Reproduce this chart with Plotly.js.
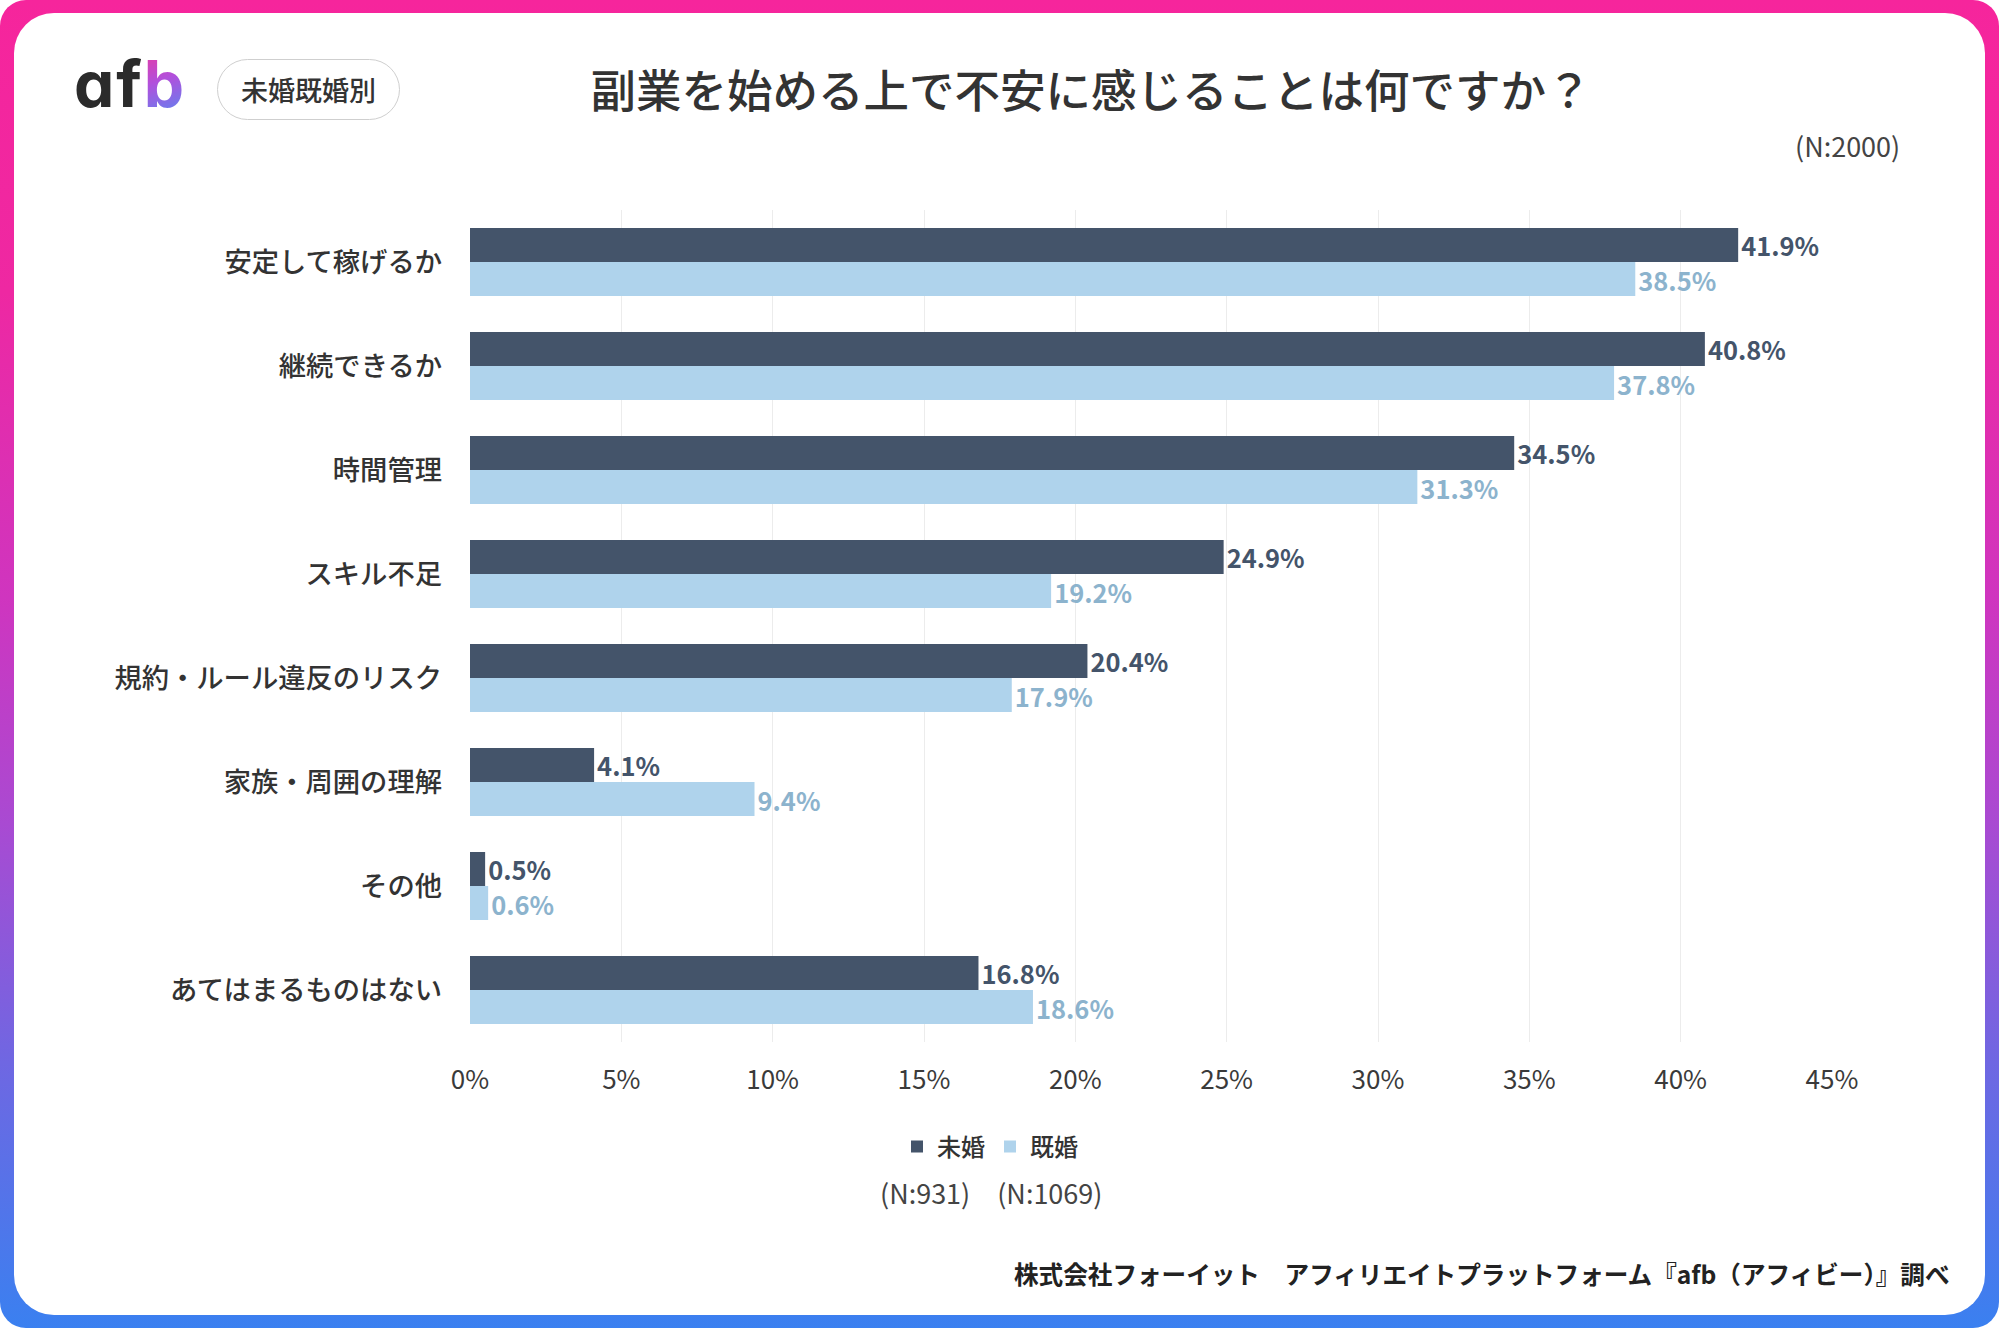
<!DOCTYPE html>
<html lang="ja">
<head>
<meta charset="utf-8">
<script src="https://cdn.plot.ly/plotly-3.0.1.min.js"></script>
<style>
  html, body { margin: 0; padding: 0; background: #ffffff; }
  #frame {
    position: absolute; left: 0; top: 0; width: 1999px; height: 1328px;
    border-radius: 26px;
    background: linear-gradient(180deg, #f6259c 0%, #ee28a2 22%, #cf35bf 45%, #a94ad2 62%, #6f67e2 80%, #3a80f0 100%);
  }
  #panel {
    position: absolute; left: 14px; top: 13px; right: 14px; bottom: 13px;
    background: #ffffff; border-radius: 40px;
  }
  #chart { position: absolute; left: 0; top: 0; width: 1999px; height: 1328px; }
  #logo {
    position: absolute; left: 74px; top: 44px;
    font-family: Inter, "Noto Sans", sans-serif; font-weight: 700; font-size: 64px;
    font-feature-settings: "cv11" 1; letter-spacing: 2px; color: #2b2b2b; line-height: 80px;
  }
  #logo .b {
    background: linear-gradient(160deg, #f0389a 0%, #b150dc 45%, #4d8ff4 100%);
    -webkit-background-clip: text; background-clip: text; color: transparent;
  }
  #tag {
    position: absolute; left: 217px; top: 59px; width: 181px; height: 59px;
    border: 1.5px solid #cfcfcf; border-radius: 31px;
    font-family: "Noto Sans CJK JP", sans-serif; font-weight: 500; font-size: 27px;
    color: #333333; text-align: center; line-height: 59px;
  }
</style>
</head>
<body>
<div id="frame"><div id="panel"></div></div>
<div id="logo">af<span class="b">b</span></div>
<div id="tag">未婚既婚別</div>
<div id="chart"></div>
<script>
// 副業を始める上での不安（未婚・既婚別）
const categories = [
  "安定して稼げるか",
  "継続できるか",
  "時間管理",
  "スキル不足",
  "規約・ルール違反のリスク",
  "家族・周囲の理解",
  "その他",
  "あてはまるものはない"
];
const unmarried = [41.9, 40.8, 34.5, 24.9, 20.4, 4.1, 0.5, 16.8];
const married   = [38.5, 37.8, 31.3, 19.2, 17.9, 9.4, 0.6, 18.6];
const seriesNames = ["未婚", "既婚"];
const xTicks = [0, 5, 10, 15, 20, 25, 30, 35, 40, 45];

const W = 1999, H = 1328;
const M = { l: 470, r: 167, t: 210, b: 286 };
const FONT = '"Noto Sans CJK JP", "Noto Sans", sans-serif';

// pixel -> paper coordinates
const px = x => (x - M.l) / (W - M.l - M.r);
const py = y => (H - M.b - y) / (H - M.t - M.b);

const DARK = '#44546a';
const LIGHT = '#afd3ec';

const traces = [
  {
    type: 'bar', orientation: 'h', name: seriesNames[0],
    y: categories, x: unmarried,
    marker: { color: DARK },
    texttemplate: '%{x:.1f}%', textposition: 'outside', cliponaxis: false,
    constraintext: 'none',
    textfont: { family: FONT, size: 25.5, color: DARK, weight: 700 },
    hoverinfo: 'skip'
  },
  {
    type: 'bar', orientation: 'h', name: seriesNames[1],
    y: categories, x: married,
    marker: { color: LIGHT },
    texttemplate: '%{x:.1f}%', textposition: 'outside', cliponaxis: false,
    constraintext: 'none',
    textfont: { family: FONT, size: 25.5, color: '#8cb3cd', weight: 700 },
    hoverinfo: 'skip'
  }
];

const layout = {
  width: W, height: H,
  margin: M,
  paper_bgcolor: 'rgba(0,0,0,0)',
  plot_bgcolor: 'rgba(0,0,0,0)',
  font: { family: FONT, color: '#333333' },
  barmode: 'group',
  bargap: 0.346,
  bargroupgap: 0,
  title: {
    text: '副業を始める上で不安に感じることは何ですか？',
    x: 1091 / W, xanchor: 'center', xref: 'container',
    y: 1 - 92 / H, yanchor: 'middle', yref: 'container',
    font: { family: FONT, size: 45.5, color: '#333333', weight: 500 }
  },
  xaxis: {
    range: [0, 45],
    tickvals: xTicks,
    ticktext: xTicks.map(v => v + '%'),
    showgrid: true, gridcolor: '#ececec', gridwidth: 1,
    zeroline: false, showline: false, ticks: '',
    ticklabelstandoff: 20,
    tickfont: { family: FONT, size: 26, color: '#3a3a3a' },
    fixedrange: true
  },
  yaxis: {
    autorange: 'reversed',
    showgrid: false, zeroline: false, showline: false, ticks: '',
    ticklabelstandoff: 27,
    tickfont: { family: FONT, size: 27.3, color: '#333333', weight: 500 },
    fixedrange: true
  },
  legend: {
    orientation: 'h',
    xref: 'container', yref: 'container',
    x: 990 / W, xanchor: 'center',
    y: 1 - 1147 / H, yanchor: 'middle',
    font: { family: FONT, size: 24, color: '#333333', weight: 500 },
    itemwidth: 30, traceorder: 'normal',
    bgcolor: 'rgba(0,0,0,0)'
  },
  showlegend: true,
  annotations: [
    {
      text: '(N:2000)', xref: 'paper', yref: 'paper',
      x: px(1902), y: py(145), xanchor: 'right', yanchor: 'middle',
      showarrow: false, font: { family: FONT, size: 27, color: '#444444' }
    },
    {
      text: '(N:931)　(N:1069)', xref: 'paper', yref: 'paper',
      x: px(991), y: py(1192), xanchor: 'center', yanchor: 'middle',
      showarrow: false, font: { family: FONT, size: 27, color: '#444444' }
    },
    {
      text: '株式会社フォーイット　アフィリエイトプラットフォーム『afb（アフィビー）』調べ',
      xref: 'paper', yref: 'paper',
      x: px(1951), y: py(1273), xanchor: 'right', yanchor: 'middle',
      showarrow: false, font: { family: FONT, size: 24.6, color: '#222222', weight: 700 }
    }
  ]
};

Plotly.newPlot('chart', traces, layout, { displayModeBar: false, staticPlot: true });
</script>
</body>
</html>
